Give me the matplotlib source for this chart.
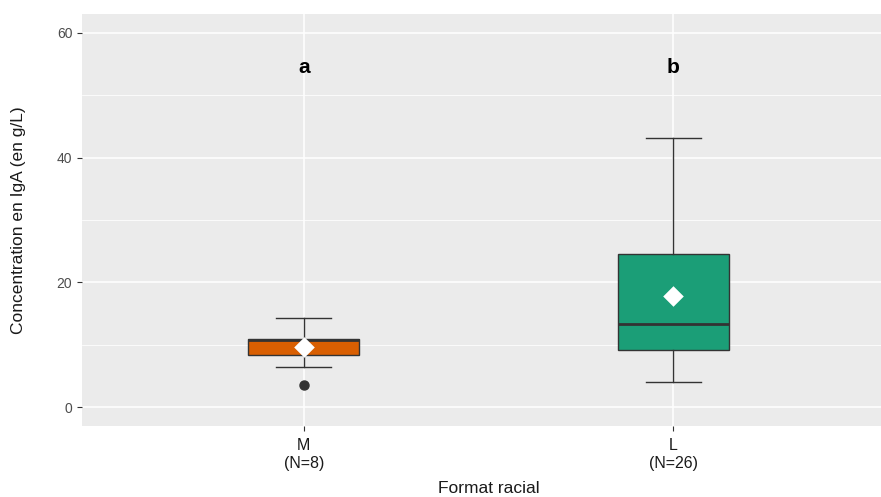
import numpy as np
import matplotlib.pyplot as plt

plt.rcParams['font.family'] = ['Liberation Sans', 'DejaVu Sans']

groups = ['M', 'L']
n_obs = [8, 26]
colors = ['#D95F02', '#1B9E77']
# box stats
whislo = [6.5, 4.0]
q1 = [8.4, 9.1]
med = [10.8, 13.4]
q3 = [10.9, 24.5]
whishi = [14.3, 43.2]
means = [9.6, 17.9]
outliers = [[3.5], []]
letters = ['a', 'b']
letter_y = 54.5

fig = plt.figure(figsize=(8.81, 4.97), dpi=100)
ax = fig.add_axes([82 / 881, (497 - 426) / 497, (895 - 82) / 881, (426 - 14) / 497])
ax.set_facecolor('#EBEBEB')
for s in ax.spines.values():
    s.set_visible(False)

stats = []
for i in range(2):
    stats.append(dict(whislo=whislo[i], q1=q1[i], med=med[i], q3=q3[i],
                      whishi=whishi[i], fliers=outliers[i]))
bp = ax.bxp(stats, positions=[1, 2], widths=0.3, patch_artist=True, showfliers=True,
            boxprops=dict(edgecolor='#333333', lw=1.0),
            medianprops=dict(color='#333333', lw=2.0),
            whiskerprops=dict(color='#333333', lw=1.0),
            capprops=dict(color='#333333', lw=1.0),
            flierprops=dict(marker='o', markerfacecolor='#333333', markeredgecolor='#333333',
                            markersize=6.5))
for cap in bp['caps']:
    x0, x1 = cap.get_xdata()
    c = (x0 + x1) / 2
    cap.set_xdata([c - 0.075, c + 0.075])
for patch, col in zip(bp['boxes'], colors):
    patch.set_facecolor(col)

ax.scatter([1, 2], means, marker='D', s=110, color='white', zorder=5, linewidths=0)
for i, t in enumerate(letters):
    ax.text(i + 1, letter_y, t, ha='center', va='center', fontsize=15, fontweight='bold')

ax.set_xlim(0.4, 2.6)
ax.set_ylim(-3, 63)
ax.set_yticks([0, 20, 40, 60])
ax.set_yticks([10, 30, 50], minor=True)
ax.set_xticks([1, 2])
ax.set_xticklabels([f'{g}\n(N={n})' for g, n in zip(groups, n_obs)])
ax.grid(which='major', color='white', lw=1.1)
ax.grid(which='minor', axis='y', color='white', lw=0.55)
ax.set_axisbelow(True)
ax.tick_params(which='major', length=3.5, color='#333333', labelcolor='#4D4D4D', labelsize=10)
ax.tick_params(axis='x', labelsize=11.5, labelcolor='#1A1A1A', pad=5)
ax.tick_params(which='minor', length=0)
for lab in ax.get_xticklabels():
    lab.set_linespacing(1.25)

ax.set_ylabel('Concentration en IgA (en g/L)', fontsize=12.5, color='#1A1A1A', labelpad=22)
ax.set_xlabel('Format racial', fontsize=12.5, color='#1A1A1A', labelpad=7)

fig.savefig('out.png', dpi=100)
